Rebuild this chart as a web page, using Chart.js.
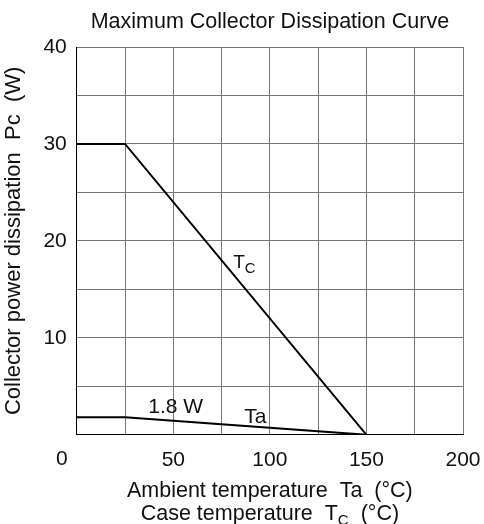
<!DOCTYPE html>
<html>
<head>
<meta charset="utf-8">
<script src="https://cdn.jsdelivr.net/npm/chart.js@4"></script>
<style>
  html, body { margin: 0; padding: 0; background: #fff; }
  #wrap { width: 484px; height: 524px; }
</style>
</head>
<body>
<div id="wrap"><canvas id="chart"></canvas></div>
<script>
// temperature breakpoints (°C) and the power limits (W)
const tempPoints = [0, 25, 150];
const caseLimit = [30, 30, 0];
const ambientLimit = [1.8, 1.8, 0];
const xTickLabels = [50, 100, 150, 200];
const yTickLabels = [10, 20, 30, 40];

const FONT = "'Liberation Sans', Arial, sans-serif";

function toXY(xs, ys) {
  return xs.map((x, i) => ({ x: x, y: ys[i] }));
}

// text that chart.js cannot place itself: title over the plot, curve names,
// the shifted "0" and the two-line x title with a subscript
const labelsPlugin = {
  id: "labels",
  afterDraw(chart) {
    const { ctx, scales: { x, y }, chartArea } = chart;
    const cx = (chartArea.left + chartArea.right) / 2;
    ctx.save();
    ctx.fillStyle = "#111";
    ctx.textBaseline = "alphabetic";

    // T with subscript C, returns its width
    function tSubC(px, py, size, subSize, drop) {
      ctx.font = size + "px " + FONT;
      ctx.textAlign = "left";
      ctx.fillText("T", px, py);
      const w = ctx.measureText("T").width;
      ctx.font = subSize + "px " + FONT;
      ctx.fillText("C", px + w, py + drop);
      return w + ctx.measureText("C").width;
    }

    ctx.font = "21.5px " + FONT;
    ctx.textAlign = "center";
    ctx.fillText("Maximum Collector Dissipation Curve", cx, 28);

    tSubC(x.getPixelForValue(81), y.getPixelForValue(17.2), 19, 15, 5);

    ctx.font = "21px " + FONT;
    ctx.textAlign = "center";
    ctx.fillText("1.8 W", x.getPixelForValue(51.2), y.getPixelForValue(2.27));
    ctx.fillText("Ta", x.getPixelForValue(92.5), y.getPixelForValue(1.24));

    // origin label sits left of the corner
    ctx.fillText("0", x.getPixelForValue(0) - 15, chartArea.bottom + 30);

    // x axis title, two lines
    ctx.font = "21.5px " + FONT;
    ctx.fillText("Ambient temperature  Ta  (°C)", cx, chartArea.bottom + 62);
    const first = "Case temperature  ";
    const last = "  (°C)";
    const w1 = ctx.measureText(first).width;
    const w3 = ctx.measureText(last).width;
    const wT = ctx.measureText("T").width;
    ctx.font = "15px " + FONT;
    const wC = ctx.measureText("C").width;
    let px = cx - (w1 + wT + wC + w3) / 2;
    const py = chartArea.bottom + 85;
    ctx.font = "21.5px " + FONT;
    ctx.textAlign = "left";
    ctx.fillText(first, px, py);
    px += w1;
    px += tSubC(px, py, 21.5, 15, 5);
    ctx.font = "21.5px " + FONT;
    ctx.textAlign = "left";
    ctx.fillText(last, px, py);
    ctx.restore();
  }
};

new Chart(document.getElementById("chart"), {
  type: "scatter",
  data: {
    datasets: [
      {
        label: "Tc",
        data: toXY(tempPoints, caseLimit),
        showLine: true,
        borderColor: "#000",
        borderWidth: 2,
        pointRadius: 0,
        fill: false
      },
      {
        label: "Ta",
        data: toXY(tempPoints, ambientLimit),
        showLine: true,
        borderColor: "#000",
        borderWidth: 2,
        pointRadius: 0,
        fill: false
      }
    ]
  },
  options: {
    responsive: true,
    maintainAspectRatio: false,
    animation: false,
    layout: { padding: { top: 47, right: 21, bottom: 38, left: 1 } },
    plugins: {
      legend: { display: false },
      tooltip: { enabled: false },
      title: { display: false }
    },
    scales: {
      x: {
        type: "linear",
        min: 0,
        max: 200,
        afterFit: s => { s.paddingLeft = 0; s.paddingRight = 0; },
        ticks: {
          stepSize: 25,
          color: "#111",
          font: { family: FONT, size: 21 },
          padding: 13,
          maxRotation: 0,
          autoSkip: false,
          callback: v => (xTickLabels.includes(v) ? String(v) : "")
        },
        grid: { color: "#777", lineWidth: 1, drawTicks: false },
        border: { color: "#000", width: 1 }
      },
      y: {
        min: 0,
        max: 40,
        ticks: {
          stepSize: 5,
          color: "#111",
          font: { family: FONT, size: 21 },
          padding: 10,
          autoSkip: false,
          callback: v => (yTickLabels.includes(v) ? String(v) : "")
        },
        grid: { color: "#777", lineWidth: 1, drawTicks: false },
        border: { color: "#000", width: 1 },
        title: {
          display: true,
          text: "Collector power dissipation  Pc  (W)",
          color: "#111",
          font: { family: FONT, size: 22 },
          padding: { top: 0, bottom: 6 }
        }
      }
    }
  },
  plugins: [labelsPlugin]
});
</script>
</body>
</html>
